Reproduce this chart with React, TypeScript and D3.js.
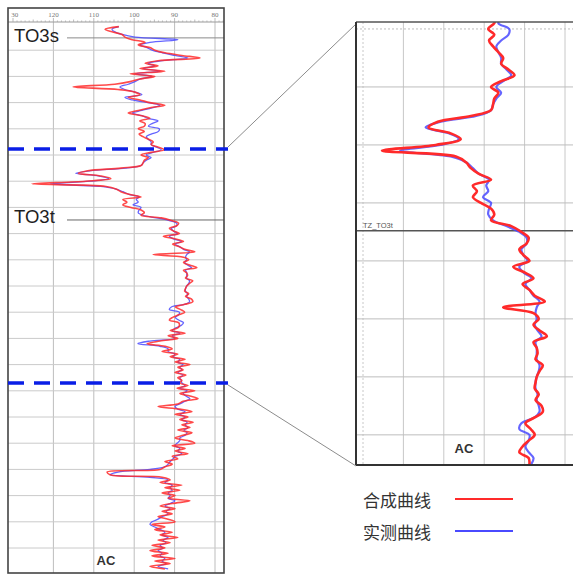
import { useEffect, useRef } from "react";
import * as d3 from "d3";

// depth sampling grid (m), one value per metre
const depths = d3.range(4701, 4909);

// 合成曲线 (synthetic AC)
const synthAC = [
  103.8, 107.2, 105.5, 103.0, 102.3, 100.5, 97.3, 99.0, 96.1, 94.9,
  92.4, 88.2, 83.7, 94.1, 97.3, 94.1, 98.6, 92.4, 101.0, 94.9,
  98.6, 101.0, 104.8, 115.1, 104.0, 99.8, 98.6, 101.5, 98.6, 96.1,
  92.4, 96.1, 99.0, 101.5, 98.1, 96.1, 98.6, 97.3, 97.5, 99.0,
  97.5, 98.8, 97.8, 96.5, 95.3, 95.8, 94.0, 92.5, 95.8, 98.3,
  96.5, 97.5, 97.8, 98.3, 103.3, 111.5, 113.8, 108.3, 105.8, 112.0,
  125.3, 107.0, 104.5, 103.3, 101.3, 98.3, 102.8, 101.8, 102.8, 100.8,
  98.3, 97.5, 98.3, 93.3, 90.8, 89.0, 89.5, 91.3, 90.3, 88.8,
  92.8, 90.0, 87.8, 90.5, 88.8, 87.5, 85.0, 95.3, 87.8, 86.5,
  87.8, 86.3, 84.5, 87.8, 87.0, 86.8, 87.3, 85.5, 86.3, 87.0,
  87.3, 87.5, 86.5, 87.3, 85.8, 85.5, 87.5, 89.8, 88.5, 87.5,
  89.0, 90.5, 91.3, 89.0, 88.8, 89.2, 91.1, 87.4, 91.6, 89.2,
  93.6, 96.8, 92.4, 90.6, 93.1, 89.2, 91.1, 87.4, 89.9, 86.2,
  89.2, 87.9, 89.9, 87.2, 89.2, 88.2, 88.7, 86.7, 89.4, 85.0,
  88.7, 86.2, 84.2, 87.9, 89.2, 94.1, 88.7, 85.7, 89.9, 86.7,
  88.7, 85.4, 88.2, 86.2, 89.2, 85.7, 87.9, 89.9, 86.7, 85.0,
  90.6, 87.4, 89.9, 86.7, 90.6, 89.2, 92.4, 90.6, 92.4, 93.6,
  106.7, 106.0, 93.1, 91.1, 93.6, 88.2, 92.4, 88.7, 93.1, 89.9,
  91.6, 86.2, 90.6, 93.6, 89.9, 93.1, 90.6, 94.1, 91.6, 89.9,
  95.6, 92.4, 94.9, 90.6, 93.6, 89.2, 94.1, 91.1, 95.6, 92.4,
  96.1, 91.6, 95.6, 89.9, 94.9, 91.1, 96.1, 92.4,
];

// 实测曲线 (measured AC)
const measAC = [
  103.8, 105.5, 104.8, 103.0, 99.8, 89.2, 96.1, 98.6, 96.8, 95.6,
  93.0, 89.9, 86.7, 93.0, 96.6, 94.9, 97.8, 93.6, 99.8, 95.6,
  98.6, 99.8, 101.5, 103.5, 102.3, 99.8, 98.1, 102.3, 100.5, 96.6,
  93.6, 95.6, 98.1, 100.5, 98.1, 96.6, 94.1, 95.6, 96.5, 93.8,
  94.0, 95.8, 97.0, 96.5, 95.8, 95.8, 94.5, 93.3, 95.3, 97.0,
  95.8, 97.0, 97.8, 98.3, 102.0, 110.8, 114.5, 108.8, 106.3, 110.8,
  120.8, 108.3, 104.5, 102.8, 101.3, 98.8, 99.5, 99.0, 100.3, 98.3,
  98.8, 99.0, 97.8, 94.5, 91.3, 89.5, 89.5, 90.8, 90.3, 89.3,
  91.3, 90.3, 88.3, 89.8, 88.8, 87.8, 86.3, 87.0, 87.3, 87.0,
  87.5, 86.8, 85.8, 87.3, 87.0, 87.0, 87.0, 86.3, 86.5, 87.0,
  87.3, 87.3, 86.8, 87.0, 86.5, 86.3, 87.5, 90.8, 91.3, 88.8,
  89.0, 89.8, 89.0, 87.8, 88.3, 89.7, 90.6, 88.7, 90.6, 89.9,
  96.1, 99.1, 93.6, 91.6, 91.6, 89.9, 90.4, 88.7, 89.2, 87.9,
  88.7, 88.2, 89.2, 87.9, 88.7, 88.4, 88.2, 87.4, 88.7, 86.9,
  87.9, 87.2, 86.2, 87.4, 88.7, 89.9, 89.2, 87.4, 88.7, 87.4,
  88.2, 86.9, 87.4, 86.7, 87.7, 86.9, 87.4, 88.7, 88.7, 89.4,
  89.9, 88.7, 89.2, 88.2, 89.9, 90.4, 91.1, 91.6, 92.4, 96.1,
  104.0, 106.0, 96.1, 91.6, 92.4, 90.6, 91.1, 90.6, 91.6, 91.1,
  91.6, 89.9, 91.1, 92.4, 91.1, 92.1, 91.6, 93.1, 94.1, 95.6,
  96.1, 94.9, 93.6, 92.4, 93.1, 91.6, 92.9, 92.1, 93.6, 92.9,
  94.1, 93.1, 93.6, 92.4, 93.1, 92.1, 94.1, 91.6,
];

const acTicks = [130, 120, 110, 100, 90, 80];
const topNames = ["TO3s", "TO3t"];
const topDepths = [4705.3, 4774.8];
const zoomDepths = [4747.7, 4837.0];
const legendLabels = ["合成曲线", "实测曲线"];
const legendColors = ["#ff2a2a", "#4a4aff"];

const W = 574;
const H = 575;

export default function App() {
  const svgRef = useRef<SVGSVGElement | null>(null);

  useEffect(() => {
    if (!svgRef.current) return;
    const svg = d3.select(svgRef.current);
    svg.selectAll("*").remove();

    const rows = depths.map((d, i) => ({ d, s: synthAC[i], m: measAC[i] }));

    // left: full interval
    const xL = d3.scaleLinear().domain([130, 80]).range([13, 215]);
    const yL = d3.scaleLinear().domain([4700, 4910]).range([24, 574.2]);
    // right: enlarged interval
    const xR = d3.scaleLinear().domain([130, 80]).range([363, 565]);
    const yR = d3.scaleLinear().domain([4738.8, 4815.2]).range([22, 465]);

    const L = { x0: 8, x1: 224, y0: 8, y1: 573 };
    const R = { x0: 356, x1: 573, y0: 22, y1: 465 };

    const defs = svg.append("defs");
    defs.append("clipPath").attr("id", "clipL")
      .append("rect").attr("x", L.x0).attr("y", 23).attr("width", L.x1 - L.x0).attr("height", L.y1 - 23);
    defs.append("clipPath").attr("id", "clipR")
      .append("rect").attr("x", R.x0).attr("y", R.y0).attr("width", R.x1 - R.x0).attr("height", R.y1 - R.y0);
    defs.append("clipPath").attr("id", "clipLab")
      .append("rect").attr("x", 11).attr("y", L.y0).attr("width", L.x1 - 11).attr("height", 16);

    svg.append("rect").attr("width", W).attr("height", H).attr("fill", "#ffffff");

    // ---------- left panel ----------
    const gl = svg.append("g");
    gl.selectAll(".vgrid").data(acTicks.slice(1)).enter().append("line")
      .attr("x1", (v) => xL(v)).attr("x2", (v) => xL(v))
      .attr("y1", 22).attr("y2", L.y1)
      .attr("stroke", "#bdbdbd").attr("stroke-width", 1);
    gl.selectAll(".hgrid").data(d3.range(4710, 4910, 10)).enter().append("line")
      .attr("x1", L.x0).attr("x2", L.x1)
      .attr("y1", (d) => yL(d)).attr("y2", (d) => yL(d))
      .attr("stroke", "#cacaca").attr("stroke-width", 1);

    // top scale
    gl.append("line").attr("x1", L.x0).attr("x2", L.x1).attr("y1", 22).attr("y2", 22)
      .attr("stroke", "#999").attr("stroke-width", 1);
    gl.selectAll(".mtick").data(d3.range(78, 131, 1)).enter().append("line")
      .attr("x1", (v) => xL(v)).attr("x2", (v) => xL(v))
      .attr("y1", 22).attr("y2", (v) => (v % 10 === 0 ? 18 : v % 5 === 0 ? 19.5 : 20.5))
      .attr("stroke", "#aaa").attr("stroke-width", 0.8);
    gl.append("g").attr("clip-path", "url(#clipLab)")
      .selectAll("text").data(acTicks).enter().append("text")
      .attr("x", (v) => xL(v)).attr("y", 16.5)
      .attr("text-anchor", "middle")
      .attr("font-family", "Liberation Serif, serif").attr("font-size", 7)
      .attr("fill", "#777").text((v) => String(v));

    // formation tops
    topNames.forEach((name, i) => {
      const y = yL(topDepths[i]);
      gl.append("line").attr("x1", 67).attr("x2", L.x1).attr("y1", y).attr("y2", y)
        .attr("stroke", i === 0 ? "#8a8a8a" : "#666").attr("stroke-width", 1);
      gl.append("text").attr("x", 14).attr("y", y + (i === 0 ? 4 : 3))
        .attr("font-family", "Liberation Sans, Arial, sans-serif").attr("font-size", 18.5)
        .attr("fill", "#1e1e1e").text(name);
    });

    const lineL = (key: "s" | "m") =>
      d3.line<any>().curve(d3.curveCatmullRom.alpha(0.5)).x((r) => xL(r[key])).y((r) => yL(r.d));
    const cl = gl.append("g").attr("clip-path", "url(#clipL)");
    cl.append("path").datum(rows).attr("d", lineL("m") as any)
      .attr("fill", "none").attr("stroke", legendColors[1]).attr("stroke-width", 1.3).attr("opacity", 0.85);
    cl.append("path").datum(rows).attr("d", lineL("s") as any)
      .attr("fill", "none").attr("stroke", legendColors[0]).attr("stroke-width", 1.6).attr("opacity", 0.85);

    gl.append("text").attr("x", 106).attr("y", 565).attr("text-anchor", "middle")
      .attr("font-family", "Liberation Sans Narrow, Liberation Sans, sans-serif")
      .attr("font-weight", "bold").attr("font-size", 13).attr("fill", "#333").text("AC");

    gl.append("rect").attr("x", L.x0).attr("y", L.y0)
      .attr("width", L.x1 - L.x0).attr("height", L.y1 - L.y0)
      .attr("fill", "none").attr("stroke", "#444").attr("stroke-width", 1.6);

    // zoom markers
    zoomDepths.forEach((d) => {
      gl.append("line").attr("x1", L.x0).attr("x2", L.x1 + 4)
        .attr("y1", yL(d)).attr("y2", yL(d))
        .attr("stroke", "#0a1ee6").attr("stroke-width", 3.5).attr("stroke-dasharray", "16 10");
    });
    svg.append("line").attr("x1", L.x1 + 4).attr("y1", yL(zoomDepths[0]) - 2)
      .attr("x2", R.x0).attr("y2", R.y0 + 2).attr("stroke", "#8c8c8c").attr("stroke-width", 1);
    svg.append("line").attr("x1", L.x1 + 4).attr("y1", yL(zoomDepths[1]) + 2)
      .attr("x2", R.x0).attr("y2", R.y1 + 1).attr("stroke", "#8c8c8c").attr("stroke-width", 1);

    // ---------- right panel ----------
    const gr = svg.append("g");
    gr.append("rect").attr("x", R.x0).attr("y", R.y0).attr("width", R.x1 - R.x0).attr("height", R.y1 - R.y0)
      .attr("fill", "#fff");
    gr.selectAll(".vgrid").data(acTicks).enter().append("line")
      .attr("x1", (v) => xR(v)).attr("x2", (v) => xR(v))
      .attr("y1", R.y0).attr("y2", R.y1)
      .attr("stroke", "#c8c8c8").attr("stroke-width", 1)
      .attr("stroke-dasharray", (v) => (v === 130 ? "2 2" : null));
    gr.selectAll(".hgrid").data(d3.range(4740, 4820, 10)).enter().append("line")
      .attr("x1", R.x0).attr("x2", R.x1)
      .attr("y1", (d) => yR(d)).attr("y2", (d) => yR(d))
      .attr("stroke", "#bdbdbd").attr("stroke-width", 1)
      .attr("stroke-dasharray", (d) => (d === 4740 ? "2 2" : null));

    const yTop = yR(topDepths[1]);
    gr.append("line").attr("x1", R.x0).attr("x2", R.x1).attr("y1", yTop).attr("y2", yTop)
      .attr("stroke", "#555").attr("stroke-width", 1.3);
    gr.append("text").attr("x", 363).attr("y", yTop - 3)
      .attr("font-family", "Liberation Sans Narrow, Liberation Sans, sans-serif")
      .attr("font-size", 7.5).attr("fill", "#555").text("TZ_TO3t");

    const rightRows = rows.filter((r) => r.d >= 4738 && r.d <= 4816);
    const lineR = (key: "s" | "m") =>
      d3.line<any>().curve(d3.curveCatmullRom.alpha(0.5)).x((r) => xR(r[key])).y((r) => yR(r.d));
    const cr = gr.append("g").attr("clip-path", "url(#clipR)");
    cr.append("path").datum(rightRows).attr("d", lineR("m") as any)
      .attr("fill", "none").attr("stroke", legendColors[1]).attr("stroke-width", 2.2).attr("opacity", 0.85);
    cr.append("path").datum(rightRows).attr("d", lineR("s") as any)
      .attr("fill", "none").attr("stroke", legendColors[0]).attr("stroke-width", 2.6);

    gr.append("text").attr("x", 464).attr("y", 453).attr("text-anchor", "middle")
      .attr("font-family", "Liberation Sans Narrow, Liberation Sans, sans-serif")
      .attr("font-weight", "bold").attr("font-size", 13).attr("fill", "#333").text("AC");

    gr.append("line").attr("x1", R.x0).attr("x2", R.x1).attr("y1", R.y0).attr("y2", R.y0)
      .attr("stroke", "#555").attr("stroke-width", 1.5);
    gr.append("line").attr("x1", R.x0).attr("x2", R.x0).attr("y1", R.y0).attr("y2", R.y1)
      .attr("stroke", "#333").attr("stroke-width", 2);
    gr.append("line").attr("x1", R.x0).attr("x2", R.x1).attr("y1", R.y1).attr("y2", R.y1)
      .attr("stroke", "#333").attr("stroke-width", 2);

    // legend
    legendLabels.forEach((label, i) => {
      const y = 501 + i * 32;
      svg.append("text").attr("x", 363).attr("y", y + 6)
        .attr("font-family", "Noto Sans CJK SC, sans-serif").attr("font-size", 17)
        .attr("fill", "#333").text(label);
      svg.append("line").attr("x1", 455).attr("x2", 513).attr("y1", y - 2).attr("y2", y - 2)
        .attr("stroke", legendColors[i]).attr("stroke-width", 2.2);
    });
  }, []);

  return (
    <svg
      ref={svgRef}
      width={W}
      height={H}
      style={{ position: "absolute", left: 0, top: 0 }}
    />
  );
}
